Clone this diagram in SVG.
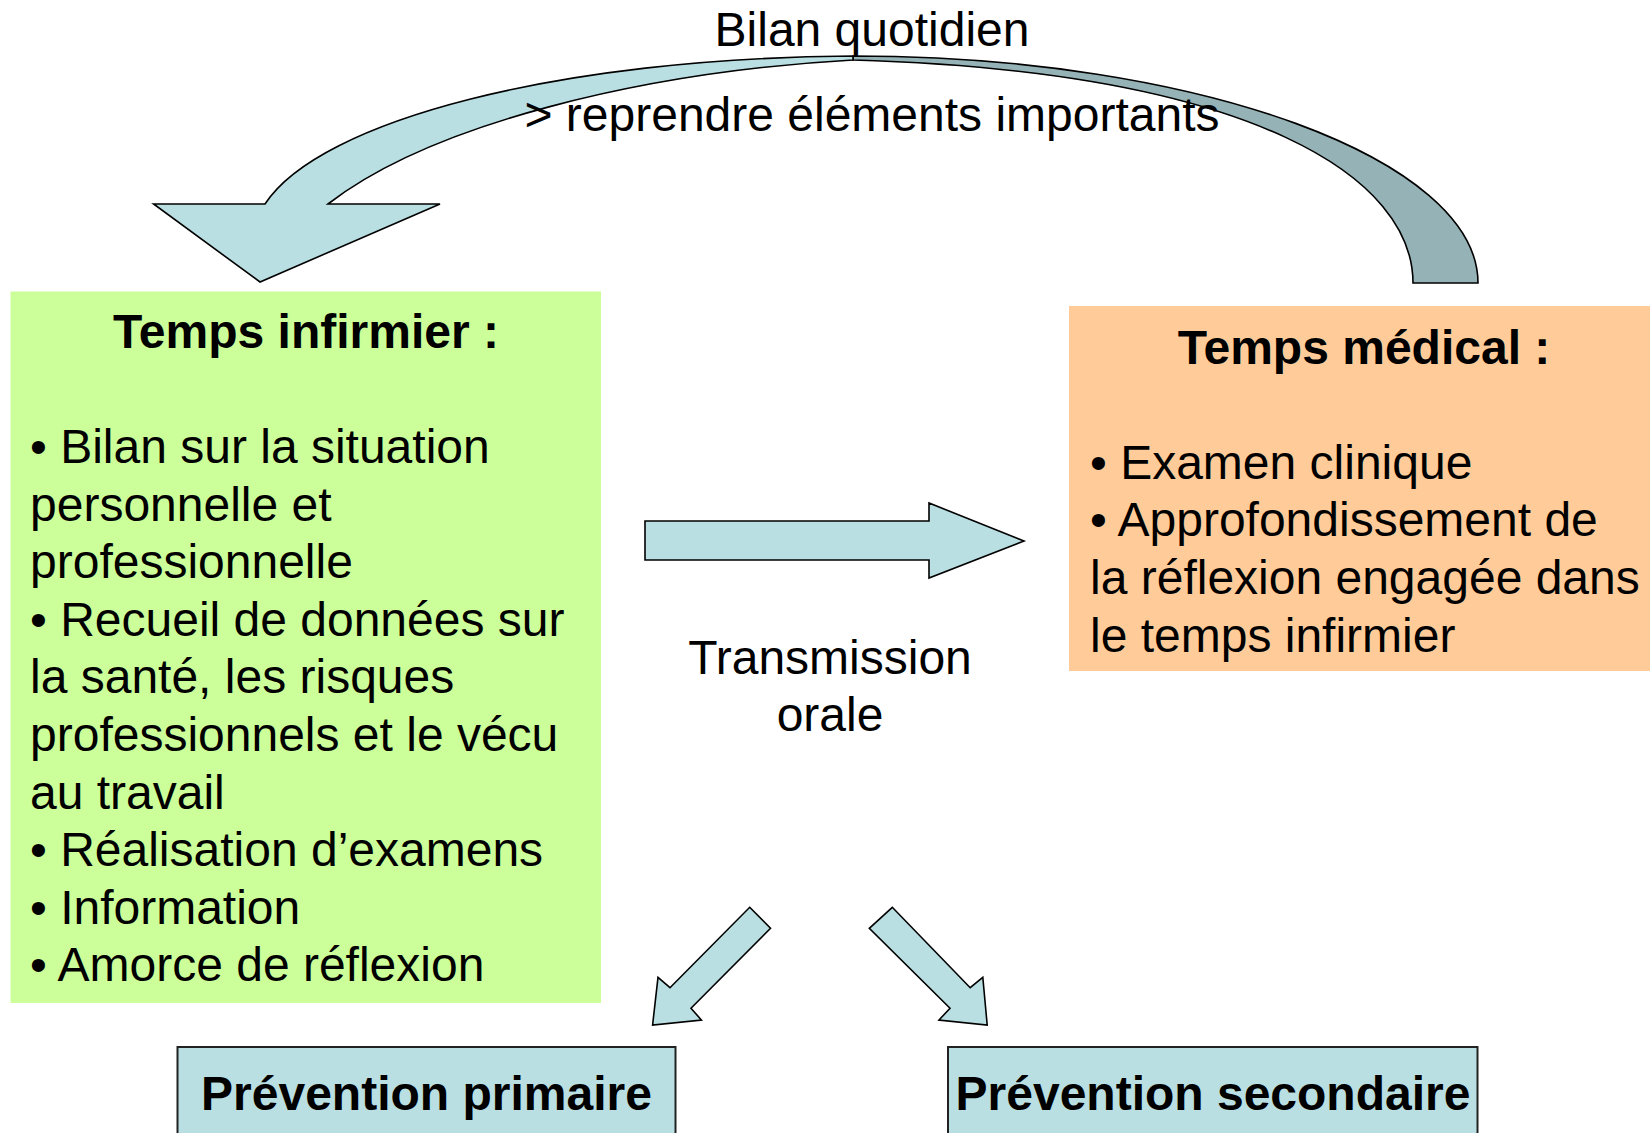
<svg xmlns="http://www.w3.org/2000/svg" width="1650" height="1133" viewBox="0 0 1650 1133">
<style>
text{font-family:"Liberation Sans",Arial,sans-serif;font-size:48px;fill:#000}
.b{font-weight:bold}
.c{text-anchor:middle}
.arr{fill:#B9DFE3;stroke:#000;stroke-width:1.6;stroke-linejoin:miter}
.dark{fill:#95B3B7;stroke:#000;stroke-width:1.6}
.box{fill:#B9DFE3;stroke:#222;stroke-width:2}
</style>
<rect width="1650" height="1133" fill="#fff"/>
<g id="node-infirmier">
<rect x="10.5" y="291.5" width="590.5" height="711.5" fill="#CCFF99"/>
<text class="b c" x="306" y="348">Temps infirmier :</text>
<text x="30" y="463">• Bilan sur la situation</text>
<text x="30" y="520.6">personnelle et</text>
<text x="30" y="578.2">professionnelle</text>
<text x="30" y="635.8">• Recueil de données sur</text>
<text x="30" y="693.4">la santé, les risques</text>
<text x="30" y="751">professionnels et le vécu</text>
<text x="30" y="808.6">au travail</text>
<text x="30" y="866.2">• Réalisation d’examens</text>
<text x="30" y="923.8">• Information</text>
<text x="30" y="981.4">• Amorce de réflexion</text>
</g>
<g id="node-medical">
<rect x="1069" y="306" width="581" height="365" fill="#FFCC99"/>
<text class="b c" x="1364" y="364">Temps médical :</text>
<text x="1090" y="478.8">• Examen clinique</text>
<text x="1090" y="536.4">• Approfondissement de</text>
<text x="1090" y="594">la réflexion engagée dans</text>
<text x="1090" y="651.6">le temps infirmier</text>
</g>
<g id="node-primaire">
<rect class="box" x="177.5" y="1047" width="498" height="100"/>
<text class="b c" x="426.5" y="1110">Prévention primaire</text>
</g>
<g id="node-secondaire">
<rect class="box" x="948" y="1047" width="529.5" height="100"/>
<text class="b c" x="1213" y="1110">Prévention secondaire</text>
</g>
<g id="connectors">
<path class="dark" d="M 853,56 C 1200,56 1478,160 1478,283 L 1413,283 C 1413,180 1260,72 853,60 Z"/>
<path class="arr" d="M 265,204 C 320,120 560,58 853,56 L 853,60 C 640,72 430,125 328,204 L 440,204 L 260,282 L 153.6,204 Z"/>
<path class="arr" d="M 645,521 L 929,521 L 929,503 L 1024,541 L 929,578 L 929,560 L 645,560 Z"/>
<path class="arr" d="M 749.7,907.3 L 770.5,928.3 L 691,1008.3 L 701.4,1020 L 652.6,1025 L 658,977.3 L 670,987.7 Z"/>
<path class="arr" d="M 892.3,907.3 L 869.3,928.3 L 950,1008.3 L 939,1020 L 987.2,1025 L 982.8,977.3 L 970.2,987.7 Z"/>
</g>
<g id="labels">
<text class="c" x="872" y="46">Bilan quotidien</text>
<text class="c" x="872" y="131">&gt; reprendre éléments importants</text>
<text class="c" x="830" y="673.5">Transmission</text>
<text class="c" x="830" y="731">orale</text>
</g>
</svg>
